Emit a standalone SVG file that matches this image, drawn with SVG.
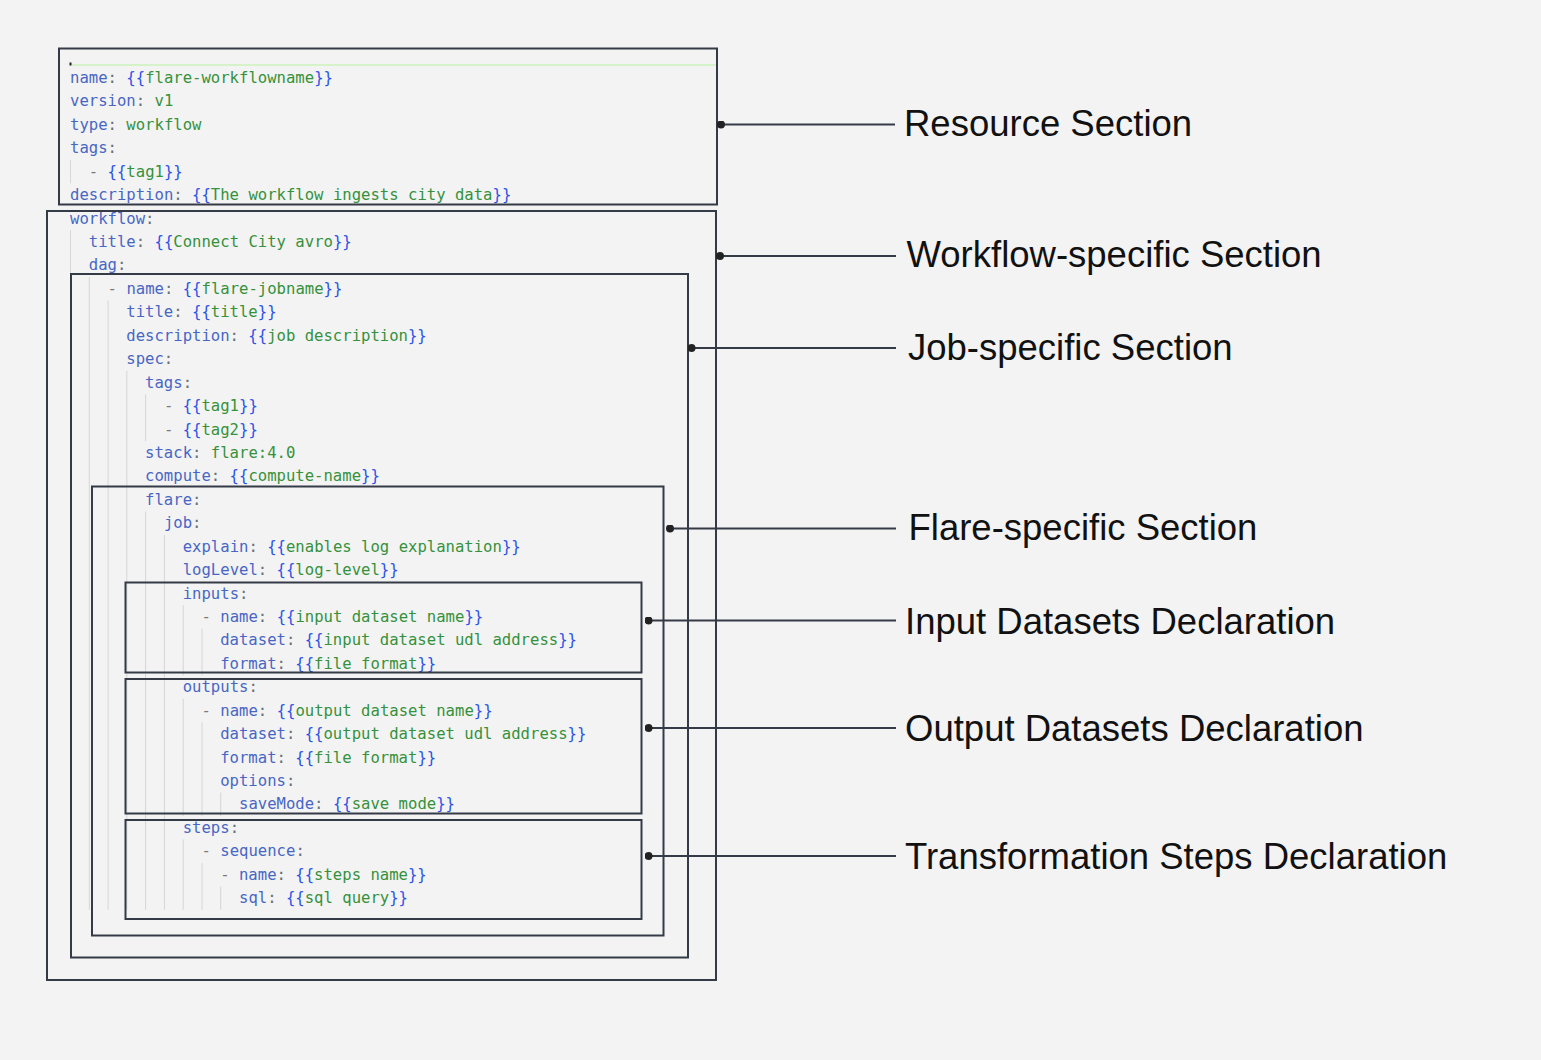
<svg xmlns="http://www.w3.org/2000/svg" width="1541" height="1060" viewBox="0 0 1541 1060">
<defs>
<style>
.code{font-family:"DejaVu Sans Mono","Liberation Mono",monospace;font-size:15.6px}
.k{fill:#4866c4}
.p{fill:#66707c}
.b{fill:#2a52e8}
.v{fill:#35913c}
.d{fill:#7a7a7a}
.box{fill:none;stroke:#343a46;stroke-width:2}
.guide{stroke:#d6d6d6;stroke-width:1}
.conn{stroke:#343a46;stroke-width:2;fill:none}
.lbl{font-family:"Liberation Sans",Arial,sans-serif;font-size:36.5px;fill:#111}
</style>
<marker id="dot" viewBox="0 0 10 10" refX="5" refY="5" markerWidth="4" markerHeight="4" markerUnits="strokeWidth">
<circle cx="5" cy="5" r="5" fill="#222"/>
</marker>
</defs>
<rect x="0" y="0" width="1541" height="1060" fill="#f3f3f3"/>

<g id="indent-guides" class="guide">
<line x1="70.5" y1="160" x2="70.5" y2="183.4"/>
<line x1="70.5" y1="230.3" x2="70.5" y2="909.8"/>
<line x1="89.3" y1="277.2" x2="89.3" y2="909.8"/>
<line x1="108.1" y1="300.6" x2="108.1" y2="909.8"/>
<line x1="126.8" y1="370.9" x2="126.8" y2="909.8"/>
<line x1="145.6" y1="394.3" x2="145.6" y2="441.2"/>
<line x1="145.6" y1="511.5" x2="145.6" y2="909.8"/>
<line x1="164.4" y1="534.9" x2="164.4" y2="909.8"/>
<line x1="183.2" y1="605.2" x2="183.2" y2="675.5"/>
<line x1="183.2" y1="698.9" x2="183.2" y2="816"/>
<line x1="183.2" y1="839.5" x2="183.2" y2="909.8"/>
<line x1="202" y1="628.6" x2="202" y2="675.5"/>
<line x1="202" y1="722.3" x2="202" y2="816"/>
<line x1="202" y1="862.9" x2="202" y2="909.8"/>
<line x1="220.7" y1="792.6" x2="220.7" y2="816"/>
<line x1="220.7" y1="886.4" x2="220.7" y2="909.8"/>
</g>

<g id="editor-top">
<line x1="72" y1="65" x2="716" y2="65" stroke="#d5f3c8" stroke-width="2"/>
<rect x="69.5" y="62.5" width="2" height="3" fill="#222"/>
</g>

<g id="code" class="code">
<text x="70" y="83"><tspan class="k">name</tspan><tspan class="p">: </tspan><tspan class="b">{{</tspan><tspan class="v">flare-workflowname</tspan><tspan class="b">}}</tspan></text>
<text x="70" y="106.4"><tspan class="k">version</tspan><tspan class="p">: </tspan><tspan class="v">v1</tspan></text>
<text x="70" y="129.9"><tspan class="k">type</tspan><tspan class="p">: </tspan><tspan class="v">workflow</tspan></text>
<text x="70" y="153.3"><tspan class="k">tags</tspan><tspan class="p">:</tspan></text>
<text x="88.8" y="176.7"><tspan class="d">- </tspan><tspan class="b">{{</tspan><tspan class="v">tag1</tspan><tspan class="b">}}</tspan></text>
<text x="70" y="200.2"><tspan class="k">description</tspan><tspan class="p">: </tspan><tspan class="b">{{</tspan><tspan class="v">The workflow ingests city data</tspan><tspan class="b">}}</tspan></text>
<text x="70" y="223.6"><tspan class="k">workflow</tspan><tspan class="p">:</tspan></text>
<text x="88.8" y="247"><tspan class="k">title</tspan><tspan class="p">: </tspan><tspan class="b">{{</tspan><tspan class="v">Connect City avro</tspan><tspan class="b">}}</tspan></text>
<text x="88.8" y="270.4"><tspan class="k">dag</tspan><tspan class="p">:</tspan></text>
<text x="107.6" y="293.9"><tspan class="d">- </tspan><tspan class="k">name</tspan><tspan class="p">: </tspan><tspan class="b">{{</tspan><tspan class="v">flare-jobname</tspan><tspan class="b">}}</tspan></text>
<text x="126.3" y="317.3"><tspan class="k">title</tspan><tspan class="p">: </tspan><tspan class="b">{{</tspan><tspan class="v">title</tspan><tspan class="b">}}</tspan></text>
<text x="126.3" y="340.7"><tspan class="k">description</tspan><tspan class="p">: </tspan><tspan class="b">{{</tspan><tspan class="v">job description</tspan><tspan class="b">}}</tspan></text>
<text x="126.3" y="364.2"><tspan class="k">spec</tspan><tspan class="p">:</tspan></text>
<text x="145.1" y="387.6"><tspan class="k">tags</tspan><tspan class="p">:</tspan></text>
<text x="163.9" y="411"><tspan class="d">- </tspan><tspan class="b">{{</tspan><tspan class="v">tag1</tspan><tspan class="b">}}</tspan></text>
<text x="163.9" y="434.5"><tspan class="d">- </tspan><tspan class="b">{{</tspan><tspan class="v">tag2</tspan><tspan class="b">}}</tspan></text>
<text x="145.1" y="457.9"><tspan class="k">stack</tspan><tspan class="p">: </tspan><tspan class="v">flare:4.0</tspan></text>
<text x="145.1" y="481.3"><tspan class="k">compute</tspan><tspan class="p">: </tspan><tspan class="b">{{</tspan><tspan class="v">compute-name</tspan><tspan class="b">}}</tspan></text>
<text x="145.1" y="504.7"><tspan class="k">flare</tspan><tspan class="p">:</tspan></text>
<text x="163.9" y="528.2"><tspan class="k">job</tspan><tspan class="p">:</tspan></text>
<text x="182.7" y="551.6"><tspan class="k">explain</tspan><tspan class="p">: </tspan><tspan class="b">{{</tspan><tspan class="v">enables log explanation</tspan><tspan class="b">}}</tspan></text>
<text x="182.7" y="575"><tspan class="k">logLevel</tspan><tspan class="p">: </tspan><tspan class="b">{{</tspan><tspan class="v">log-level</tspan><tspan class="b">}}</tspan></text>
<text x="182.7" y="598.5"><tspan class="k">inputs</tspan><tspan class="p">:</tspan></text>
<text x="201.5" y="621.9"><tspan class="d">- </tspan><tspan class="k">name</tspan><tspan class="p">: </tspan><tspan class="b">{{</tspan><tspan class="v">input dataset name</tspan><tspan class="b">}}</tspan></text>
<text x="220.2" y="645.3"><tspan class="k">dataset</tspan><tspan class="p">: </tspan><tspan class="b">{{</tspan><tspan class="v">input dataset udl address</tspan><tspan class="b">}}</tspan></text>
<text x="220.2" y="668.8"><tspan class="k">format</tspan><tspan class="p">: </tspan><tspan class="b">{{</tspan><tspan class="v">file format</tspan><tspan class="b">}}</tspan></text>
<text x="182.7" y="692.2"><tspan class="k">outputs</tspan><tspan class="p">:</tspan></text>
<text x="201.5" y="715.6"><tspan class="d">- </tspan><tspan class="k">name</tspan><tspan class="p">: </tspan><tspan class="b">{{</tspan><tspan class="v">output dataset name</tspan><tspan class="b">}}</tspan></text>
<text x="220.2" y="739"><tspan class="k">dataset</tspan><tspan class="p">: </tspan><tspan class="b">{{</tspan><tspan class="v">output dataset udl address</tspan><tspan class="b">}}</tspan></text>
<text x="220.2" y="762.5"><tspan class="k">format</tspan><tspan class="p">: </tspan><tspan class="b">{{</tspan><tspan class="v">file format</tspan><tspan class="b">}}</tspan></text>
<text x="220.2" y="785.9"><tspan class="k">options</tspan><tspan class="p">:</tspan></text>
<text x="239" y="809.3"><tspan class="k">saveMode</tspan><tspan class="p">: </tspan><tspan class="b">{{</tspan><tspan class="v">save mode</tspan><tspan class="b">}}</tspan></text>
<text x="182.7" y="832.8"><tspan class="k">steps</tspan><tspan class="p">:</tspan></text>
<text x="201.5" y="856.2"><tspan class="d">- </tspan><tspan class="k">sequence</tspan><tspan class="p">:</tspan></text>
<text x="220.2" y="879.6"><tspan class="d">- </tspan><tspan class="k">name</tspan><tspan class="p">: </tspan><tspan class="b">{{</tspan><tspan class="v">steps name</tspan><tspan class="b">}}</tspan></text>
<text x="239" y="903.1"><tspan class="k">sql</tspan><tspan class="p">: </tspan><tspan class="b">{{</tspan><tspan class="v">sql query</tspan><tspan class="b">}}</tspan></text>
</g>

<g id="resource-box"><rect class="box" x="59" y="48.5" width="658" height="156"/></g>
<g id="workflow-box"><rect class="box" x="47" y="211" width="669" height="769"/></g>
<g id="job-box"><rect class="box" x="71" y="274" width="617" height="683.5"/></g>
<g id="flare-box"><rect class="box" x="92" y="486.5" width="571.5" height="449"/></g>
<g id="inputs-box"><rect class="box" x="125.5" y="582.5" width="516" height="90"/></g>
<g id="outputs-box"><rect class="box" x="125.5" y="679" width="516" height="134.5"/></g>
<g id="steps-box"><rect class="box" x="125.5" y="820" width="516" height="99"/></g>

<g id="connectors" class="conn">
<line x1="721" y1="124.5" x2="895" y2="124.5" marker-start="url(#dot)"/>
<line x1="720" y1="256" x2="896" y2="256" marker-start="url(#dot)"/>
<line x1="691.5" y1="348" x2="896" y2="348" marker-start="url(#dot)"/>
<line x1="670" y1="528.5" x2="896" y2="528.5" marker-start="url(#dot)"/>
<line x1="648.5" y1="620.5" x2="896" y2="620.5" marker-start="url(#dot)"/>
<line x1="648.5" y1="728" x2="896" y2="728" marker-start="url(#dot)"/>
<line x1="648.5" y1="856" x2="896" y2="856" marker-start="url(#dot)"/>
</g>

<g id="label-resource"><text class="lbl" x="904" y="136">Resource Section</text></g>
<g id="label-workflow"><text class="lbl" x="906.5" y="267">Workflow-specific Section</text></g>
<g id="label-job"><text class="lbl" x="908" y="360">Job-specific Section</text></g>
<g id="label-flare"><text class="lbl" x="908.5" y="540">Flare-specific Section</text></g>
<g id="label-inputs"><text class="lbl" x="905" y="634">Input Datasets Declaration</text></g>
<g id="label-outputs"><text class="lbl" x="905" y="741">Output Datasets Declaration</text></g>
<g id="label-steps"><text class="lbl" x="905" y="869">Transformation Steps Declaration</text></g>
</svg>
